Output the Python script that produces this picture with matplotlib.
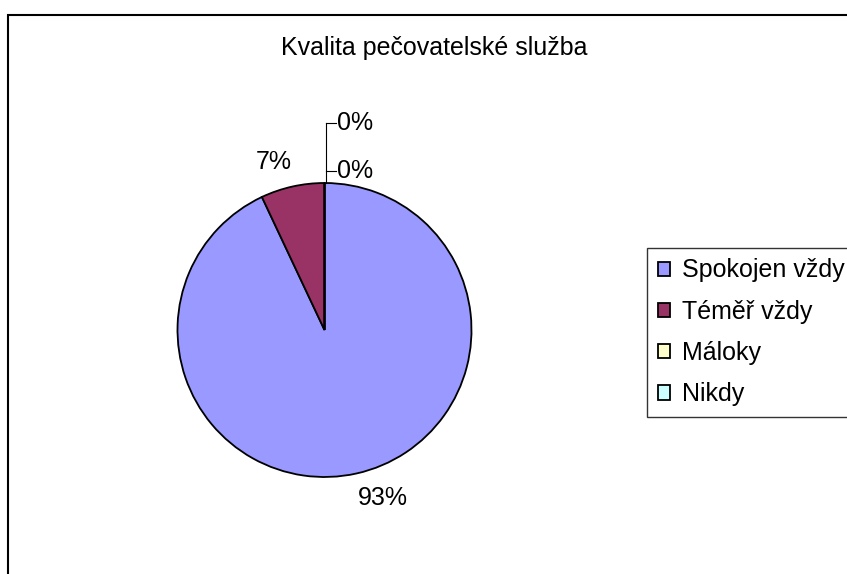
import matplotlib.pyplot as plt
import numpy as np
from matplotlib.patches import Rectangle

plt.rcParams['font.family'] = ['Liberation Sans', 'DejaVu Sans']

title = 'Kvalita pečovatelské služba'
labels = ['Spokojen vždy', 'Téměř vždy', 'Máloky', 'Nikdy']
values = [93, 7, 0, 0]
colors = ['#9999FF', '#993366', '#FFFFCC', '#CCFFFF']

W, H = 847, 574
FS = 18
fig = plt.figure(figsize=(W / 100, H / 100), dpi=100)

# outer chart border (cut off at right and bottom like the reference)
fig.patches.append(Rectangle((8 / W, -0.1), 1.2, 1.1 - 15 / H, transform=fig.transFigure,
                             fill=False, edgecolor='black', linewidth=1.5))

cx, cy, r = 324.5, 330, 147
ax = fig.add_axes([(cx - r) / W, (H - cy - r) / H, 2 * r / W, 2 * r / H])
wedges, _ = ax.pie(values, colors=colors, startangle=90, counterclock=False,
                   wedgeprops=dict(edgecolor='black', linewidth=1.3))
ax.set_xlim(-1, 1)
ax.set_ylim(-1, 1)
ax.set_aspect('equal')
ax.axis('off')

total = sum(values)
pct = [f'{round(v * 100 / total)}%' for v in values]

# labels for non-zero slices (near edge of the text toward the slice)
for w, p, v in zip(wedges, pct, values):
    if v == 0:
        continue
    mid = np.deg2rad((w.theta1 + w.theta2) / 2)
    c, s = np.cos(mid), np.sin(mid)
    ax.text(1.03 * c, 1.17 * s, p, ha='left' if c > 0 else 'right', va='center', fontsize=FS)

# zero slices: labels with leader lines
zero_y = [1.41, 1.085]
ax.plot([0.01, 0.01], [1.0, zero_y[0]], color='black', lw=0.8, clip_on=False)
k = 0
for p, v in zip(pct, values):
    if v != 0:
        continue
    y = zero_y[k]
    ax.plot([0.01, 0.075], [y, y], color='black', lw=0.8, clip_on=False)
    ax.text(0.085, y, p, ha='left', va='center', fontsize=FS)
    k += 1

fig.text(434 / W, 1 - 48 / H, title, ha='center', va='center', fontsize=FS)

leg = fig.legend(wedges, labels, loc='upper left', bbox_to_anchor=(647 / W, 1 - 248 / H),
                 borderaxespad=0, fontsize=FS, frameon=True, fancybox=False,
                 handlelength=0.5, handleheight=0.5, handletextpad=0.5,
                 labelspacing=0.69, borderpad=0.42)
leg.get_frame().set_edgecolor('black')
leg.get_frame().set_linewidth(1.0)

fig.savefig('out.png', dpi=100)
